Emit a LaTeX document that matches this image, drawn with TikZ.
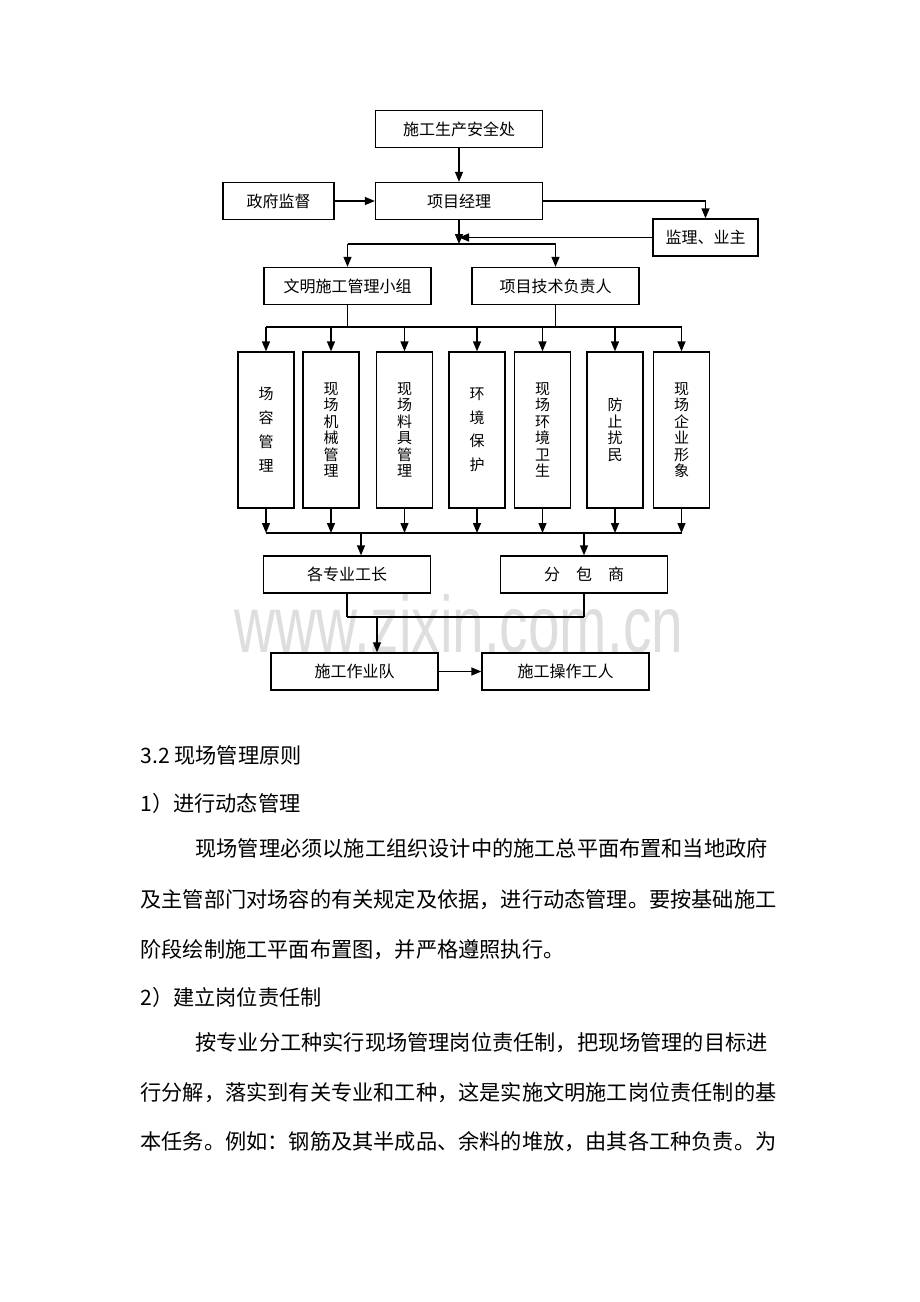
\documentclass[tikz,border=0pt]{standalone}
\usepackage{fontspec}
\usepackage{graphicx}
\usepackage{tikz}
\usetikzlibrary{arrows.meta}
\newfontfamily\cjk{Noto Sans CJK SC}
\newfontfamily\wmfont{Liberation Sans}

\begin{document}
\begin{tikzpicture}[x=0.5pt, y=-0.5pt,
         box/.style = {draw, line width=0.65pt, minimum width=83.5pt,
                       minimum height=18.5pt, inner sep=0pt,
                       font=\cjk\fontsize{8}{9.6}\selectfont},
        vbox/.style = {draw, line width=0.65pt, minimum width=28pt,
                       minimum height=78pt, inner sep=0pt, align=center,
                       font=\cjk\fontsize{7.5}{8.25}\selectfont},
         arr/.style = {draw, line width=0.65pt,
                       -{Triangle[length=5pt, width=4pt]}},
        wire/.style = {draw, line width=0.65pt},
        body/.style = {anchor=west, inner sep=0pt,
                       font=\cjk\fontsize{10.6}{12}\selectfont}
                        ]
    \useasboundingbox (0,0) rectangle (920,1302);

    % watermark behind the chart
    \node (wm) at (459,652) [anchor=base, text=black!13, inner sep=0pt]
          {\scalebox{0.71}[1]{\wmfont\fontsize{40}{40}\selectfont www.zixin.com.cn}};

    % upper boxes
    \node (anquan) at (459,129)     [box] {施工生产安全处};
    \node (zfjd)   at (278.5,201)   [box, minimum width=55.5pt] {政府监督};
    \node (xmjl)   at (459,201)     [box] {项目经理};
    \node (jlyz)   at (705.5,237.5) [box, minimum width=52.5pt] {监理、业主};
    \node (wmsg)   at (347.5,286)   [box] {文明施工管理小组};
    \node (xmjs)   at (555.5,286)   [box] {项目技术负责人};

    % the seven tall boxes
    \node (b1) at (266,430)   [vbox] {场\\[3.75pt]容\\[3.75pt]管\\[3.75pt]理};
    \node (b2) at (331,430)   [vbox] {现\\场\\机\\械\\管\\理};
    \node (b3) at (404.5,430) [vbox] {现\\场\\料\\具\\管\\理};
    \node (b4) at (477,430)   [vbox] {环\\[3.5pt]境\\[3.5pt]保\\[3.5pt]护};
    \node (b5) at (542.5,430) [vbox] {现\\场\\环\\境\\卫\\生};
    \node (b6) at (615,430)   [vbox] {防\\止\\扰\\民};
    \node (b7) at (681.5,430) [vbox] {现\\场\\企\\业\\形\\象};

    % lower boxes
    \node (gzyg) at (347,574.5)   [box] {各专业工长};
    \node (fbs)  at (584,574.5)   [box] {分\hspace{1em}包\hspace{1em}商};
    \node (sgzy) at (354.5,671.5) [box] {施工作业队};
    \node (sgcz) at (565.5,671.5) [box] {施工操作工人};

    % junction points
    \coordinate (j1)  at (459,244);
    \coordinate (j2)  at (459,327);
    \coordinate (j3)  at (459,533);
    \coordinate (j3a) at (361,533);
    \coordinate (j4)  at (377,617);

    \draw[arr] (anquan) -- (xmjl);
    \draw[arr] (zfjd) -- (xmjl);
    \draw[arr] (xmjl.east) -| (jlyz.north);
    \draw[arr] (xmjl) -- (j1);
    \draw[arr] (jlyz) -- (jlyz -| j1);

    \draw[wire] (wmsg |- j1) -- (xmjs |- j1);
    \draw[arr] (wmsg |- j1) -- (wmsg);
    \draw[arr] (xmjs |- j1) -- (xmjs);

    \draw[wire] (wmsg) -- (wmsg |- j2);
    \draw[wire] (xmjs) -- (xmjs |- j2);
    \draw[wire] (b1 |- j2) -- (b7 |- j2);

    \draw[arr] (b1 |- j2) -- (b1);
    \draw[arr] (b2 |- j2) -- (b2);
    \draw[arr] (b3 |- j2) -- (b3);
    \draw[arr] (b4 |- j2) -- (b4);
    \draw[arr] (b5 |- j2) -- (b5);
    \draw[arr] (b6 |- j2) -- (b6);
    \draw[arr] (b7 |- j2) -- (b7);

    \draw[arr] (b1) -- (b1 |- j3);
    \draw[arr] (b2) -- (b2 |- j3);
    \draw[arr] (b3) -- (b3 |- j3);
    \draw[arr] (b4) -- (b4 |- j3);
    \draw[arr] (b5) -- (b5 |- j3);
    \draw[arr] (b6) -- (b6 |- j3);
    \draw[arr] (b7) -- (b7 |- j3);
    \draw[wire] (b1 |- j3) -- (b7 |- j3);

    \draw[arr] (j3a) -- (j3a |- gzyg.north);
    \draw[arr] (fbs |- j3) -- (fbs);

    \draw[wire] (gzyg) -- (gzyg |- j4);
    \draw[wire] (fbs) -- (fbs |- j4);
    \draw[wire] (gzyg |- j4) -- (fbs |- j4);
    \draw[arr] (j4) -- (j4 |- sgzy.north);
    \draw[arr] (sgzy) -- (sgcz);

    % text below the chart
    \node (h32) at (140,755)  [body] {3.2 现场管理原则};
    \node (h1)  at (140,803)  [body] {1）进行动态管理};
    \node (p1a) at (195,848)  [body] {现场管理必须以施工组织设计中的施工总平面布置和当地政府};
    \node (p1b) at (140,900)  [body] {及主管部门对场容的有关规定及依据，进行动态管理。要按基础施工};
    \node (p1c) at (140,950)  [body] {阶段绘制施工平面布置图，并严格遵照执行。};
    \node (h2)  at (140,997)  [body] {2）建立岗位责任制};
    \node (p2a) at (195,1043) [body] {按专业分工种实行现场管理岗位责任制，把现场管理的目标进};
    \node (p2b) at (140,1093) [body] {行分解，落实到有关专业和工种，这是实施文明施工岗位责任制的基};
    \node (p2c) at (140,1142) [body] {本任务。例如：钢筋及其半成品、余料的堆放，由其各工种负责。为};
\end{tikzpicture}
\end{document}
